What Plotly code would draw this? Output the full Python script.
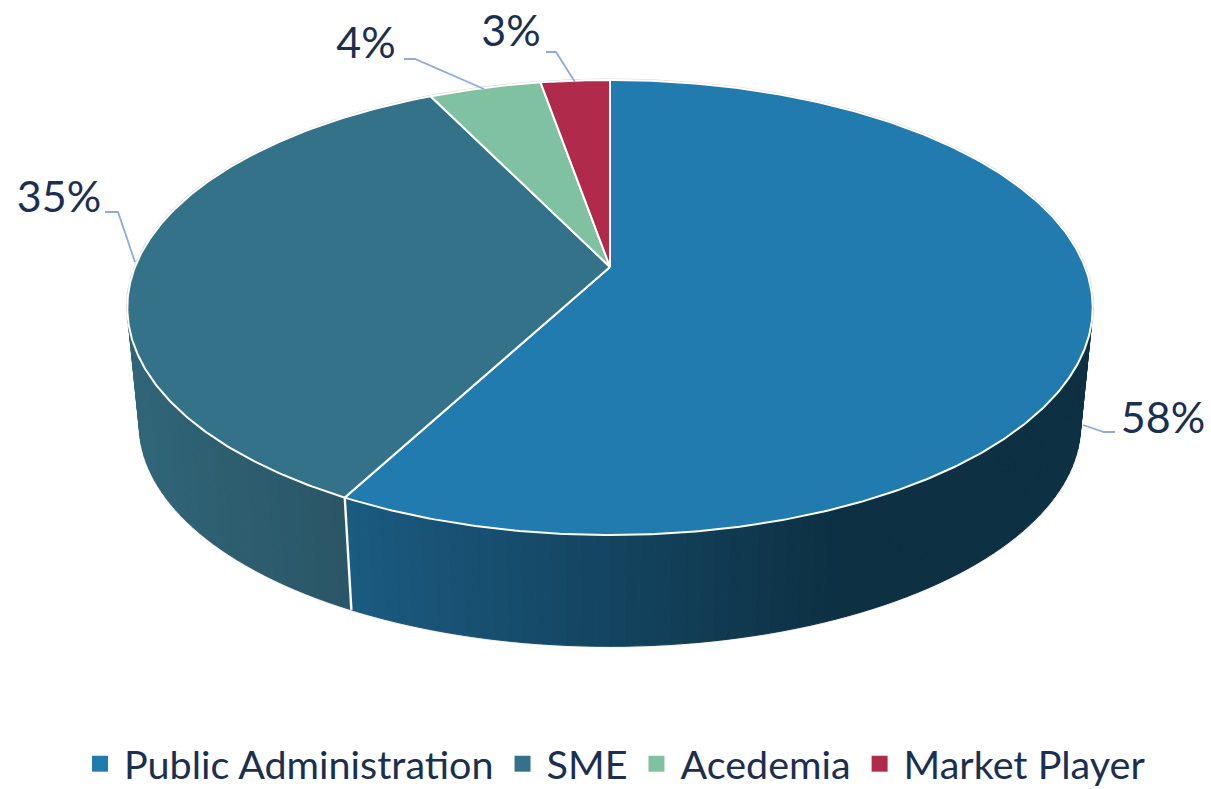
import numpy as np
import plotly.graph_objects as go

categories = ["Public Administration", "SME", "Acedemia", "Market Player"]
shares = [57.8, 34.98, 4.47, 2.75]
labels = ["58%", "35%", "4%", "3%"]
colors = ["#217BAE", "#347289", "#80C1A2", "#B02B4B"]
wall_left = {"Public Administration": (27, 91, 129), "SME": (48, 101, 120)}
wall_right = {"Public Administration": (13, 48, 67), "SME": (42, 86, 103)}
TEXT = "#1B2F50"
LEADER = "#8FAADC"

W, H = 1211, 789
CX, CY, A, B, K = 610.0, 267.0, 475.0, 220.3, 0.178
S, DY = 0.975, 118.0


def ring(theta, bottom=False):
    t = np.radians(theta)
    d = 1 + K * np.cos(t)
    s = S if bottom else 1.0
    dy = DY if bottom else 0.0
    return CX + s * A * np.sin(t) / d, CY + dy - s * B * np.cos(t) / d


edges = np.concatenate([[0], np.cumsum(shares) / sum(shares) * 360])
fig = go.Figure()

# outer rims (thin grey fringe)
th = np.linspace(0, 360, 361)
rx, ry = ring(th)
fig.add_trace(go.Scatter(x=rx, y=ry, mode="lines", line=dict(color="#DADADA", width=3),
                         showlegend=False, hoverinfo="skip"))
vis = np.linspace(100, 260, 200)
bx, by = ring(vis, True)
fig.add_trace(go.Scatter(x=bx, y=by, mode="lines", line=dict(color="#E2E2E2", width=2.6),
                         showlegend=False, hoverinfo="skip"))

# side wall, as narrow quads shaded by horizontal position
for name, i in (("Public Administration", 0), ("SME", 1)):
    lo, hi = edges[i], edges[i + 1]
    lo2, hi2 = max(lo, 84), min(hi, 276)
    steps = np.arange(lo2, hi2 + 1.5, 1.5)
    steps = np.clip(steps, lo2, hi2)
    xs_all, _ = ring(steps)
    if name == "Public Administration":
        x0, x1 = xs_all.min(), 840.0
    else:
        x0, x1 = xs_all.min(), xs_all.max()
    for a, b in zip(steps[:-1], steps[1:]):
        tx, ty = ring(np.array([a, b]))
        ux, uy = ring(np.array([b, a]), True)
        f = float(np.clip((0.5 * (tx[0] + tx[1]) - x0) / (x1 - x0), 0, 1))
        c = [round(l + (r - l) * f) for l, r in zip(wall_left[name], wall_right[name])]
        col = f"rgb({c[0]},{c[1]},{c[2]})"
        fig.add_trace(go.Scatter(x=np.r_[tx, ux, tx[0]], y=np.r_[ty, uy, ty[0]], mode="lines",
                                 fill="toself", fillcolor=col, line=dict(color=col, width=1),
                                 showlegend=False, hoverinfo="skip"))

# divider on the wall
dt = np.array([edges[1]])
tx, ty = ring(dt)
ux, uy = ring(dt, True)
fig.add_trace(go.Scatter(x=np.r_[tx, ux], y=np.r_[ty, uy], mode="lines",
                         line=dict(color="#FFFFFF", width=2.4), showlegend=False, hoverinfo="skip"))

# top face
for i, name in enumerate(categories):
    arc = np.linspace(edges[i], edges[i + 1], max(int(edges[i + 1] - edges[i]) * 2, 4))
    ax, ay = ring(arc)
    fig.add_trace(go.Scatter(x=np.r_[CX, ax, CX], y=np.r_[CY, ay, CY], mode="lines", fill="toself",
                             fillcolor=colors[i], line=dict(color="#FFFFFF", width=2),
                             name=name, showlegend=False, hoverinfo="name"))

# legend entries
for name, col in zip(categories, colors):
    fig.add_trace(go.Scatter(x=[None], y=[None], mode="markers", name=name,
                             marker=dict(symbol="square", size=17, color=col)))

# leader lines
leaders = [
    ([1083, 1104, 1115], [425, 432, 432]),
    ([105, 118, 135], [212, 212, 262]),
    ([404, 415, 484], [59, 59, 89]),
    ([546, 556, 575], [52, 52, 82]),
]
for lx, ly in leaders:
    fig.add_trace(go.Scatter(x=lx, y=ly, mode="lines", line=dict(color=LEADER, width=1.8),
                             showlegend=False, hoverinfo="skip"))

label_pos = [(1163, 422), (59, 201), (366, 47), (511, 35)]
fig.add_trace(go.Scatter(x=[p[0] for p in label_pos], y=[p[1] for p in label_pos], mode="text",
                         text=labels, textposition="middle center",
                         textfont=dict(family="Lato, 'Open Sans', sans-serif", size=43, color=TEXT),
                         showlegend=False, hoverinfo="skip"))

fig.update_layout(
    width=W, height=H, margin=dict(l=0, r=0, t=0, b=0, autoexpand=False),
    paper_bgcolor="white", plot_bgcolor="white",
    xaxis=dict(range=[0, W], visible=False, fixedrange=True),
    yaxis=dict(range=[H, 0], visible=False, fixedrange=True),
    legend=dict(orientation="h", x=613.5 / W, xanchor="center", y=1 - 764 / H, yanchor="middle",
                font=dict(family="Lato, 'Open Sans', sans-serif", size=39.5, color=TEXT),
                itemwidth=38, bgcolor="rgba(0,0,0,0)", itemclick=False, itemdoubleclick=False),
)
fig.write_html("out.html", config={"displayModeBar": False},
               post_script="document.body.style.margin='0';")
